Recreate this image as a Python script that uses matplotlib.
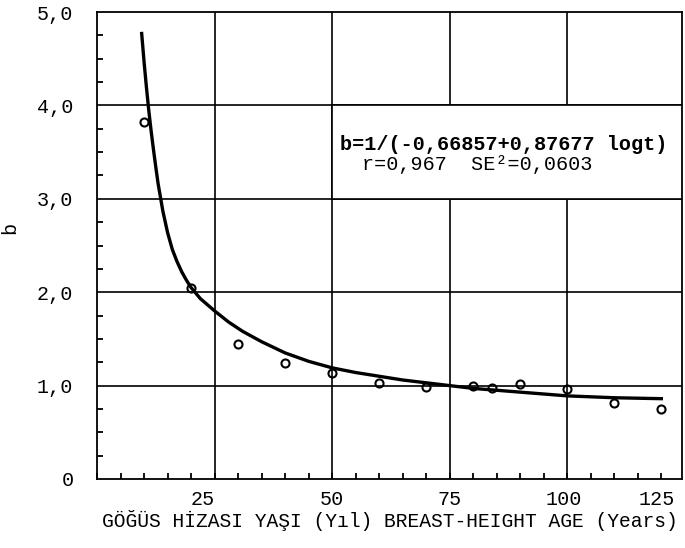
import matplotlib
matplotlib.use("Agg")
import matplotlib.pyplot as plt
from matplotlib.ticker import MultipleLocator
from matplotlib.patches import Rectangle

# observed points (age, b)
age = [10, 20, 30, 40, 50, 60, 70, 80, 84, 90, 100, 110, 120]
b_obs = [3.82, 2.05, 1.45, 1.24, 1.13, 1.03, 0.99, 1.00, 0.97, 1.02, 0.96, 0.81, 0.75]

# fitted curve
curve_t = [9.5, 10, 10.5, 11, 11.5, 12, 12.5, 13, 14, 15, 16, 17, 18, 19, 20, 21, 22,
           25, 28, 31, 35, 40, 45, 50, 55, 60, 65, 70, 75, 80, 85, 90, 95, 100,
           105, 110, 115, 120]
curve_b = [4.77, 4.47, 4.20, 3.95, 3.73, 3.53, 3.34, 3.16, 2.87, 2.64, 2.46, 2.33, 2.22,
           2.13, 2.05, 1.99, 1.93, 1.80, 1.68, 1.58, 1.47, 1.35, 1.26, 1.19, 1.14, 1.10,
           1.06, 1.03, 1.00, 0.97, 0.95, 0.93, 0.91, 0.89, 0.88, 0.87, 0.865, 0.86]

grid_x = [25, 50, 75, 100]
xlabel_pos = [22.5, 49.9, 74.9, 99.2, 119.0]
xlabel_txt = ['25', '50', '75', '100', '125']
y_ticks = [0, 1, 2, 3, 4, 5]
y_txt = ['0', '1,0', '2,0', '3,0', '4,0', '5,0']

font = 'Liberation Mono'
fs = 14.5

fig = plt.figure(figsize=(6.85, 5.48), dpi=100)
ax = fig.add_axes([97/685, 1 - 479/548, 585/685, 467/548])
ax.set_xlim(0, 124.4)
ax.set_ylim(0, 4.98)

# grid
for gx in grid_x:
    ax.axvline(gx, color='black', lw=1.2, zorder=1)
for gy in y_ticks[1:-1]:
    ax.axhline(gy, color='black', lw=1.2, zorder=1)

for s in ax.spines.values():
    s.set_linewidth(1.3)

# equation box over the grid
ax.add_patch(Rectangle((50, 3), 80, 1, facecolor='white', edgecolor='black',
                       lw=1.2, zorder=2))
ax.text(51.6, 3.58, 'b=1/(-0,66857+0,87677 logt)', fontfamily=font, fontsize=fs,
        fontweight='bold', ha='left', va='center', zorder=3)
ax.text(56.4, 3.37, 'r=0,967  SE\u00b2=0,0603', fontfamily=font, fontsize=fs,
        ha='left', va='center', zorder=3)

ax.plot(curve_t, curve_b, color='black', lw=2.4, zorder=4)
ax.plot(age, b_obs, 'o', ms=5.8, mfc='none', mec='black', mew=1.5, zorder=5)

# ticks
ax.set_xticks([])
ax.xaxis.set_minor_locator(MultipleLocator(5))
ax.yaxis.set_minor_locator(MultipleLocator(0.25))
ax.tick_params(which='minor', direction='in', length=4, width=1.3,
               bottom=True, left=True, top=False, right=False)
ax.set_yticks(y_ticks, y_txt)
ax.tick_params(axis='y', which='major', length=0, pad=17)
for lab in ax.get_yticklabels():
    lab.set_fontfamily(font)
    lab.set_fontsize(fs)

for xp, xt in zip(xlabel_pos, xlabel_txt):
    ax.text(xp, -0.043, xt, transform=ax.get_xaxis_transform(), fontfamily=font,
            fontsize=fs, ha='center', va='center')

ax.set_xlabel('GÖĞÜS HİZASI YAŞI (Yıl) BREAST-HEIGHT AGE (Years)', fontfamily=font,
              fontsize=14.1, va='center')
ax.xaxis.set_label_coords(0.5, -0.088)
ax.set_ylabel('b', fontfamily=font, fontsize=fs, va='center', ha='center')
ax.yaxis.set_label_coords(-0.149, 0.537)

fig.savefig('out.png', dpi=100)
